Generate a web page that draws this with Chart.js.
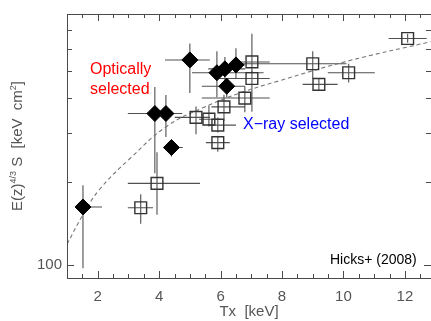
<!DOCTYPE html>
<html><head><meta charset="utf-8">
<script src="https://cdn.jsdelivr.net/npm/chart.js@4.4.0/dist/chart.umd.min.js"></script>
<style>html,body{margin:0;padding:0;background:#fff}</style>
</head><body>
<canvas id="c" width="431" height="321"></canvas>
<script>
// ---- data ----
// Optically selected (filled diamonds)
const optT    = [1.52, 3.86, 4.22, 4.40, 5.00, 5.88, 6.14, 6.50, 6.20];
const optS    = [162,  351,  351,  265,  547,  492,  508,  525,  440];
const optTlo  = [1.33, 2.98, 3.60, 4.19, 4.19, 5.07, 5.60, 6.30, 5.39];
const optThi  = [2.14, 4.40, 4.75, 4.77, 5.65, 7.40, 6.80, 6.79, 6.79];
const optSlo  = [97.6, 214,  289,  246,  416,  402,  420,  469,  402];
const optShi  = [194,  437,  409,  282,  627,  588,  560,  603,  469];
// X-ray selected (open squares)
const xrayT   = [3.40, 3.93, 5.20, 5.62, 5.91, 5.91, 6.11, 6.79, 7.02, 7.02, 9.00, 9.20, 10.17, 12.09];
const xrayS   = [161,  197,  340,  335,  319,  276,  371,  399,  469,  538,  530,  447,  492,   653];
const xrayTlo = [2.98, 2.98, 4.51, 5.30, 5.60, 5.52, 5.70, 5.39, 5.80, 6.40, 6.30, 8.67, 9.49,  11.47];
const xrayThi = [3.80, 5.33, 5.65, 6.00, 6.50, 6.30, 6.80, 7.60, 7.60, 7.60, 10.10, 9.81, 11.02, 12.71];
const xraySlo = [141,  152,  296,  315,  300,  256,  330,  355,  356,  490,  469,  425,  454,   630];
const xrayShi = [180,  255,  372,  375,  340,  292,  410,  440,  500,  680,  588,  470,  530,   680];
// dashed relation curve
const fitT = [1.0, 1.52, 2.07, 3.05, 4.25, 5.42, 6.63, 7.93, 10.14, 12.84];
const fitS = [119, 152,  188,  242,  316,  368,  416,  461,  542,   636];
// ticks
const xTickLabels = [2, 4, 6, 8, 10, 12];
const xMinorTicks = [1.5, 2.5, 3, 3.5, 4.5, 5, 5.5, 6.5, 7, 7.5, 8.5, 9, 9.5, 10.5, 11, 11.5, 12.5];
const yTickLabels = [100];
const yMinorTicks = [200, 300, 400, 500, 600, 700];

const axisColor = '#4a4a4a';
const textGray = '#555';
const FONT = '"Liberation Sans", Arial, sans-serif';

const errorBars = {
  id: 'errorBars',
  beforeDatasetsDraw(chart) {
    const {ctx, chartArea: a, scales: {x, y}} = chart;
    ctx.save();
    ctx.beginPath(); ctx.rect(a.left, a.top, a.right - a.left, a.bottom - a.top); ctx.clip();
    ctx.strokeStyle = '#505050'; ctx.lineWidth = 1.1;
    const draw = (T, S, tl, th, sl, sh) => {
      for (let i = 0; i < T.length; i++) {
        const px = x.getPixelForValue(T[i]), py = y.getPixelForValue(S[i]);
        ctx.beginPath();
        ctx.moveTo(x.getPixelForValue(tl[i]), py); ctx.lineTo(x.getPixelForValue(th[i]), py);
        ctx.moveTo(px, y.getPixelForValue(sl[i])); ctx.lineTo(px, y.getPixelForValue(sh[i]));
        ctx.stroke();
      }
    };
    draw(xrayT, xrayS, xrayTlo, xrayThi, xraySlo, xrayShi);
    draw(optT, optS, optTlo, optThi, optSlo, optShi);
    ctx.restore();
  }
};

const frame = {
  id: 'frame',
  afterDraw(chart) {
    const {ctx, chartArea: a, scales: {x, y}} = chart;
    ctx.save();
    ctx.strokeStyle = axisColor; ctx.lineWidth = 1;
    ctx.strokeRect(a.left + 0.5, a.top + 0.5, a.right - a.left, a.bottom - a.top);
    ctx.beginPath();
    const xt = (v, len) => { const p = Math.round(x.getPixelForValue(v)) + 0.5;
      ctx.moveTo(p, a.bottom); ctx.lineTo(p, a.bottom - len);
      ctx.moveTo(p, a.top); ctx.lineTo(p, a.top + len); };
    const yt = (v, len) => { const p = Math.round(y.getPixelForValue(v)) + 0.5;
      ctx.moveTo(a.left, p); ctx.lineTo(a.left + len, p);
      ctx.moveTo(a.right, p); ctx.lineTo(a.right - len, p); };
    xTickLabels.forEach(v => xt(v, 7));
    xMinorTicks.forEach(v => xt(v, 4));
    yTickLabels.forEach(v => yt(v, 7));
    yMinorTicks.forEach(v => yt(v, 5));
    ctx.stroke();

    // annotations
    ctx.textBaseline = 'alphabetic'; ctx.textAlign = 'left';
    ctx.font = '16px ' + FONT;
    ctx.fillStyle = '#ff0000';
    ctx.fillText('Optically', 90, 74);
    ctx.fillText('selected', 90, 94);
    ctx.fillStyle = '#0000ff';
    ctx.fillText('X\u2212ray selected', 243, 129);
    ctx.fillStyle = '#000';
    ctx.font = '14px ' + FONT;
    ctx.fillText('Hicks+ (2008)', 330, 264);

    // y-axis title with superscripts
    const parts = [['E(z)', 15, 0], ['4/3', 9, 6], [' S  [keV  cm', 15, 0], ['2', 9, 6], [']', 15, 0]];
    ctx.translate(22, 146); ctx.rotate(-Math.PI / 2);
    let total = 0;
    parts.forEach(p => { ctx.font = p[1] + 'px ' + FONT; total += ctx.measureText(p[0]).width; });
    let cx = -total / 2;
    ctx.fillStyle = textGray;
    parts.forEach(p => { ctx.font = p[1] + 'px ' + FONT;
      ctx.fillText(p[0], cx, -p[2]); cx += ctx.measureText(p[0]).width; });
    ctx.restore();
  }
};

new Chart(document.getElementById('c'), {
  type: 'scatter',
  data: {
    datasets: [
      { label: 'Optically selected', data: optT.map((t, i) => ({x: t, y: optS[i]})),
        pointStyle: 'rectRot', pointRadius: 8, backgroundColor: '#000', borderColor: '#000', borderWidth: 1 },
      { label: 'X-ray selected', data: xrayT.map((t, i) => ({x: t, y: xrayS[i]})),
        pointStyle: 'rect', pointRadius: 8.3, backgroundColor: 'rgba(0,0,0,0)', borderColor: '#333', borderWidth: 1.4 },
      { type: 'line', label: 'relation', data: fitT.map((t, i) => ({x: t, y: fitS[i]})),
        borderColor: '#777', borderWidth: 1.1, borderDash: [4, 3], pointRadius: 0, showLine: true,
        tension: 0.4, fill: false }
    ]
  },
  options: {
    responsive: false, animation: false, devicePixelRatio: 1,
    layout: { autoPadding: false, padding: { top: 7, right: 0, left: 0, bottom: 0 } },
    plugins: { legend: { display: false }, tooltip: { enabled: false } },
    scales: {
      x: { type: 'linear', min: 1, max: 12.85,
        afterBuildTicks: s => { s.ticks = xTickLabels.map(v => ({value: v})); },
        afterFit: s => { s.height = 43; },
        grid: { display: false, drawTicks: false }, border: { display: false },
        ticks: { color: textGray, font: { size: 15, family: FONT }, padding: 10, maxRotation: 0 },
        title: { display: true, text: 'Tx  [keV]', color: textGray, padding: { top: 1, bottom: 0 },
          font: { size: 15, family: FONT } } },
      y: { type: 'logarithmic', min: 90, max: 800,
        afterBuildTicks: s => { s.ticks = yTickLabels.map(v => ({value: v})); },
        afterFit: s => { s.width = 67; },
        grid: { display: false, drawTicks: false }, border: { display: false },
        ticks: { color: textGray, font: { size: 15, family: FONT }, padding: 5,
          callback: v => String(v) } }
    }
  },
  plugins: [errorBars, frame]
});
</script>
</body></html>
